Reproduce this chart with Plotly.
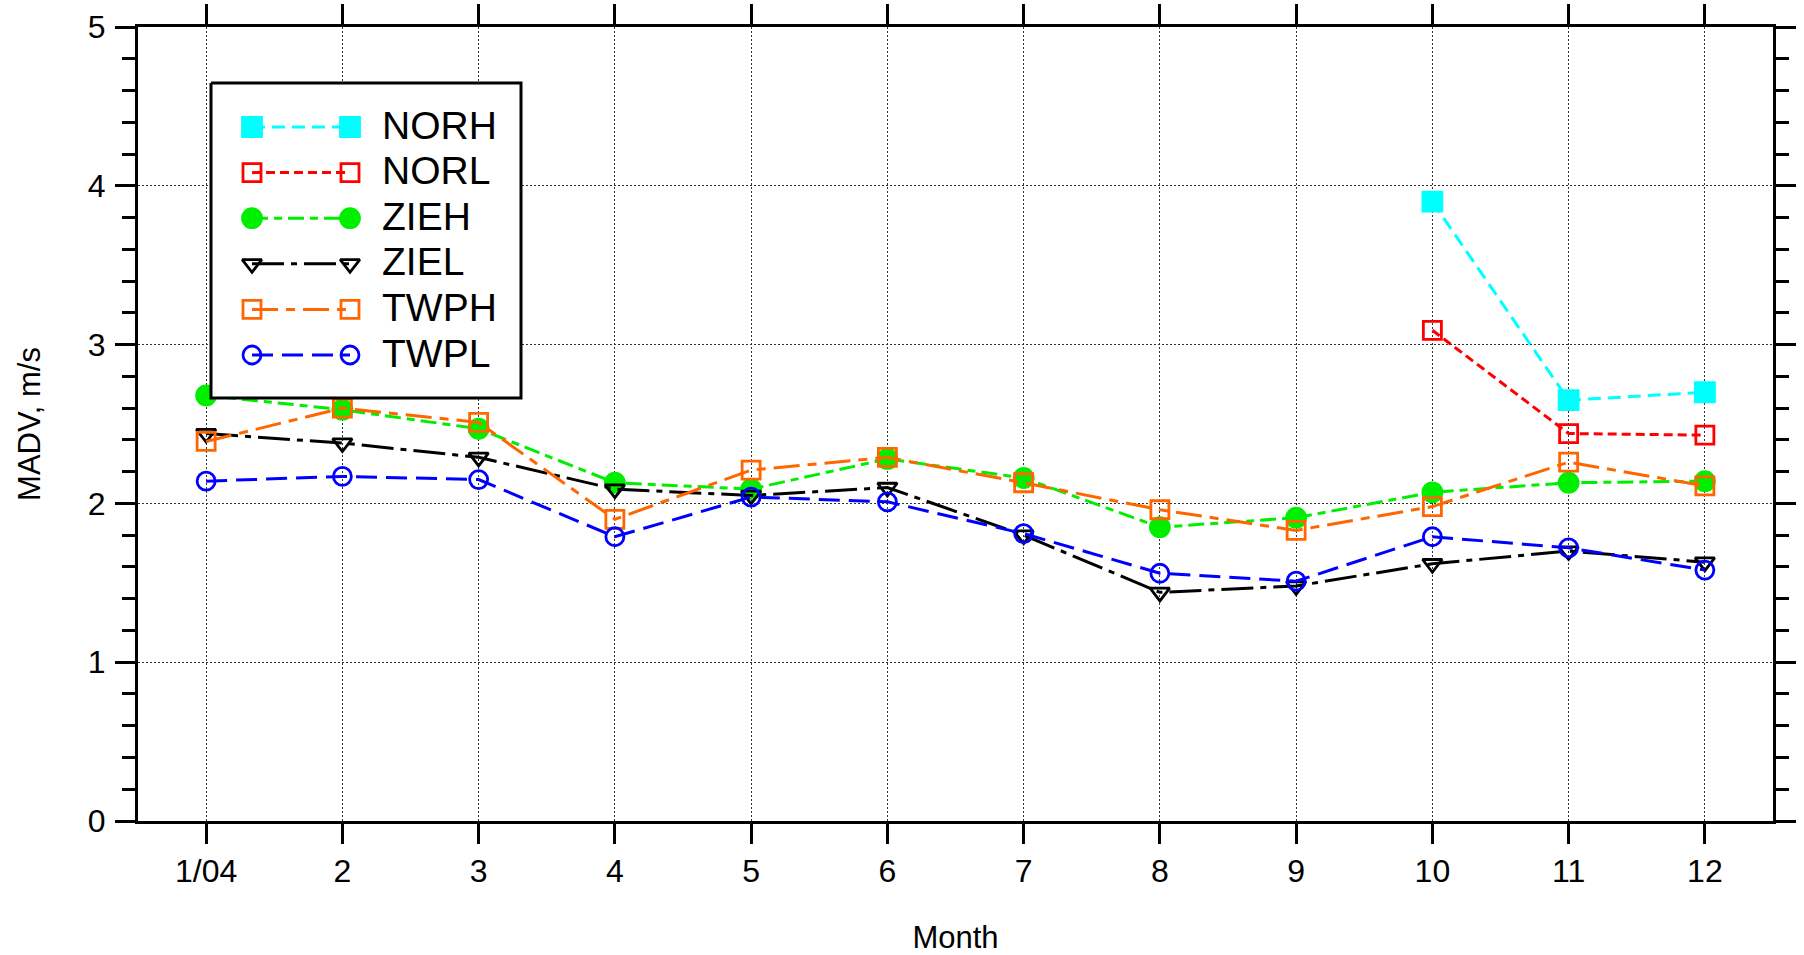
import plotly.graph_objects as go

# Monthly mean absolute deviation of wind speed (m/s) per site/level
months = list(range(1, 13))
month_labels = ["1/04", "2", "3", "4", "5", "6", "7", "8", "9", "10", "11", "12"]

norh = [None, None, None, None, None, None, None, None, None, 3.90, 2.65, 2.70]
norl = [None, None, None, None, None, None, None, None, None, 3.09, 2.44, 2.43]
zieh = [2.68, 2.59, 2.47, 2.13, 2.09, 2.28, 2.16, 1.85, 1.91, 2.07, 2.13, 2.14]
ziel = [2.44, 2.38, 2.29, 2.09, 2.05, 2.10, 1.80, 1.44, 1.48, 1.62, 1.70, 1.63]
twph = [2.39, 2.60, 2.51, 1.90, 2.21, 2.29, 2.13, 1.96, 1.83, 1.98, 2.26, 2.11]
twpl = [2.14, 2.17, 2.15, 1.79, 2.04, 2.01, 1.81, 1.56, 1.51, 1.79, 1.72, 1.58]

series_names = ["NORH", "NORL", "ZIEH", "ZIEL", "TWPH", "TWPL"]
series_values = [norh, norl, zieh, ziel, twph, twpl]

FONT = "Liberation Sans, Arial, sans-serif"

styles = [
    dict(color="#00FFFF", dash="13px,7px", symbol="square", size=19),
    dict(color="#FF0000", dash="9px,5px", symbol="square-open", size=18),
    dict(color="#00EE00", dash="16px,6px,8px,6px", symbol="circle", size=19),
    dict(color="#000000", dash="32px,7px,6px,7px", symbol="triangle-down-open", size=17),
    dict(color="#FF6600", dash="26px,8px,9px,8px", symbol="square-open", size=18),
    dict(color="#0000FF", dash="21px,9px", symbol="circle-open", size=18),
]

fig = go.Figure()

for name, vals, st in zip(series_names, series_values, styles):
    fig.add_trace(go.Scatter(
        x=months, y=vals, name=name, mode="lines+markers",
        line=dict(color=st["color"], width=3, dash=st["dash"]),
        marker=dict(symbol=st["symbol"], size=st["size"], color=st["color"],
                    line=dict(color=st["color"], width=2.8)),
        connectgaps=False, showlegend=False, cliponaxis=False,
    ))

# Plot-area geometry in pixels (used for the hand-drawn key)
PX_L, PX_R, PX_T, PX_B = 138, 1773, 27, 821

# Key: white box with border on an overlay pixel-space subplot
box_l, box_r, box_t, box_b = 211, 521, 83, 398
fig.add_trace(go.Scatter(
    x=[box_l, box_r, box_r, box_l, box_l], y=[box_t, box_t, box_b, box_b, box_t],
    mode="lines", fill="toself", fillcolor="white",
    line=dict(color="black", width=3), xaxis="x2", yaxis="y2",
    showlegend=False, hoverinfo="skip",
))

row0, row_step = 127, 45.6
mk_l, mk_r, txt_x = 252, 350, 380
for i, (name, st) in enumerate(zip(series_names, styles)):
    yy = row0 + i * row_step
    fig.add_trace(go.Scatter(
        x=[mk_l, mk_r], y=[yy, yy], mode="lines+markers",
        line=dict(color=st["color"], width=3, dash=st["dash"]),
        marker=dict(symbol=st["symbol"], size=st["size"], color=st["color"],
                    line=dict(color=st["color"], width=2.8)),
        xaxis="x2", yaxis="y2", showlegend=False, hoverinfo="skip", cliponaxis=False,
    ))
    fig.add_annotation(
        x=txt_x, y=yy - 2, xref="x2", yref="y2", text=name, showarrow=False,
        xanchor="left", yanchor="middle",
        font=dict(family=FONT, size=39, color="black"),
    )

grid = dict(showgrid=True, gridcolor="#333333", gridwidth=1, griddash="2px,2px")

fig.update_layout(
    width=1804, height=955,
    margin=dict(l=PX_L, r=1804 - PX_R, t=PX_T, b=955 - PX_B, pad=0,
                autoexpand=False),
    paper_bgcolor="white", plot_bgcolor="white",
    font=dict(family=FONT, size=31, color="black"),
    showlegend=False,
    xaxis=dict(
        range=[0.5, 12.5], tickmode="array", tickvals=months, ticktext=month_labels,
        ticks="outside", ticklen=20, tickwidth=3, tickcolor="black",
        showline=True, linewidth=3, linecolor="black", mirror="allticks",
        zeroline=False, tickfont=dict(size=32), ticklabelstandoff=0,
        automargin=False,
        title=dict(text="Month", font=dict(size=31), standoff=40),
        **grid,
    ),
    yaxis=dict(
        range=[0, 5], tickmode="linear", tick0=0, dtick=1,
        ticks="outside", ticklen=20, tickwidth=3, tickcolor="black",
        showline=True, linewidth=3, linecolor="black", mirror="allticks",
        zeroline=False, tickfont=dict(size=32), ticklabelstandoff=3,
        automargin=False,
        minor=dict(dtick=0.2, ticks="outside", ticklen=13, tickwidth=3,
                   tickcolor="black", showgrid=False),
        title=dict(text="MADV, m/s", font=dict(size=31), standoff=38),
        **grid,
    ),
    xaxis2=dict(overlaying="x", anchor="y2", range=[PX_L, PX_R], visible=False,
                fixedrange=True),
    yaxis2=dict(overlaying="y", anchor="x2", range=[PX_B, PX_T], visible=False,
                fixedrange=True),
)

fig.write_html("out.html")
